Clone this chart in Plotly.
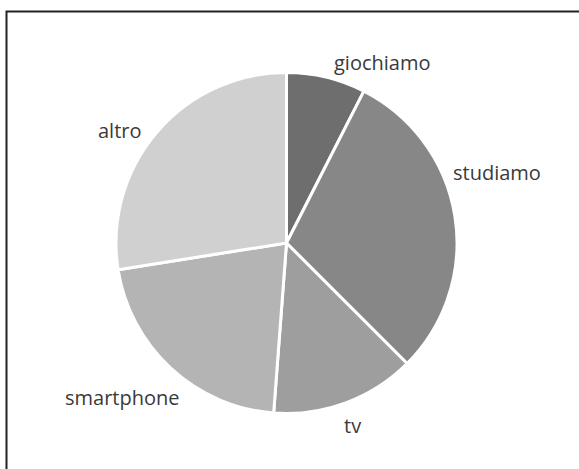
import plotly.graph_objects as go

# Share of time by activity
categories = ["giochiamo", "studiamo", "tv", "smartphone", "altro"]
values = [7.5, 30.0, 13.7, 21.3, 27.5]
colors = ["#6e6e6e", "#878787", "#9e9e9e", "#b4b4b4", "#d0d0d0"]

W, H = 579, 469
# Label centres in pixels (x, y from top)
label_px = [(382, 63), (497, 172), (352, 425), (122, 397), (120, 130)]

fig = go.Figure(
    go.Pie(
        labels=categories,
        values=values,
        sort=False,
        direction="clockwise",
        rotation=0,
        marker=dict(colors=colors, line=dict(color="white", width=3)),
        textinfo="none",
        hoverinfo="label+percent",
        domain=dict(x=[116 / W, 457 / W], y=[1 - 414 / H, 1 - 72 / H]),
        showlegend=False,
    )
)

annotations = []
for name, (px, py) in zip(categories, label_px):
    annotations.append(
        dict(
            text=name,
            x=px / W,
            y=1 - py / H,
            xref="paper",
            yref="paper",
            xanchor="center",
            yanchor="middle",
            showarrow=False,
            font=dict(family="Open Sans", size=20, color="#3a3a3a"),
        )
    )

fig.update_layout(
    width=W,
    height=H,
    margin=dict(l=0, r=0, t=0, b=0),
    paper_bgcolor="white",
    plot_bgcolor="white",
    annotations=annotations,
    shapes=[
        dict(
            type="rect",
            xref="paper",
            yref="paper",
            x0=6.5 / W,
            x1=1.05,
            y0=-0.05,
            y1=1 - 11.5 / H,
            line=dict(color="#222222", width=2),
            fillcolor="rgba(0,0,0,0)",
            layer="above",
        )
    ],
)

fig.write_html("out.html")
